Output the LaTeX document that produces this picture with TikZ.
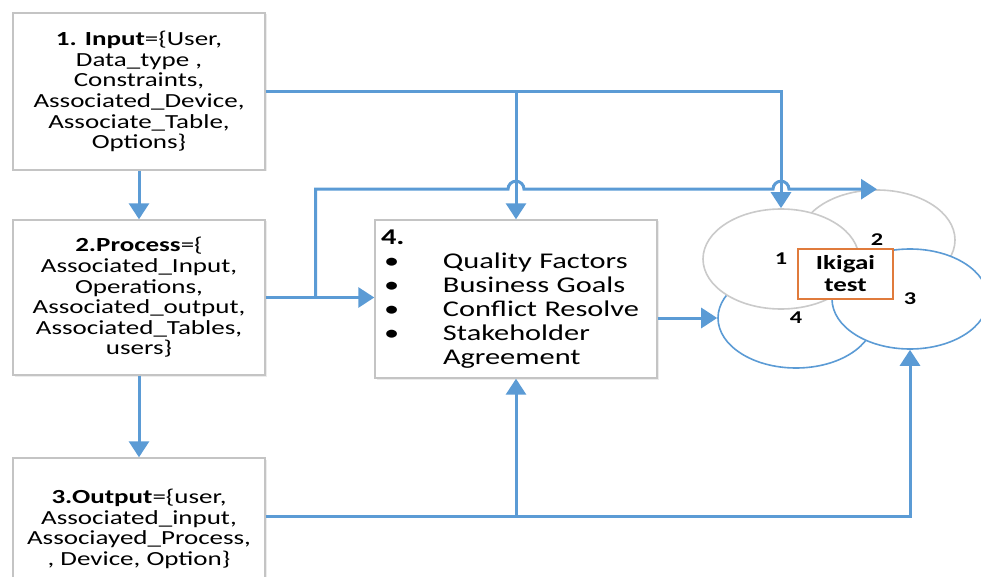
\documentclass[tikz,border=0pt]{standalone}
\usepackage{fontspec}
\setmainfont{Carlito}[FakeStretch=1.35]
\usetikzlibrary{calc,shapes.geometric,arrows.meta,shadows}

\definecolor{lineblue}{HTML}{5B9BD5}
\definecolor{boxgray}{HTML}{C4C4C4}
\definecolor{ringgray}{HTML}{CACACA}
\definecolor{tagorange}{HTML}{E07B3C}

\tikzset{
  infobox/.style={draw=boxgray, line width=1.4pt, fill=white, align=center,
    minimum width=252pt, font=\fontsize{20}{20.6}\selectfont,
    drop shadow={opacity=0.15, shadow xshift=1.5pt, shadow yshift=-1.5pt}},
  flow/.style={lineblue, line width=3pt, -{Triangle[width=20pt,length=16pt]}},
  ring/.style={ellipse, draw, line width=1.6pt, fill=white, minimum width=156pt,
    minimum height=100pt, font=\bfseries\fontsize{18}{18}\selectfont},
}

\begin{document}
\begin{tikzpicture}[x=1pt,y=1pt]

\useasboundingbox (0,0) rectangle (981,-577);

% left column
\node[infobox, minimum height=157pt] (in1) at (139,-91.5)
  {\textbf{1. Input}=\{User,\\ Data\_type ,\\ Constraints,\\ Associated\_Device,\\ Associate\_Table,\\ Options\}};
\node[infobox, minimum height=155pt] (pr2) at (139,-297.5)
  {\textbf{2.Process}=\{\\ Associated\_Input,\\ Operations,\\ Associated\_output,\\ Associated\_Tables,\\ users\}};
\node[infobox, minimum height=142pt] (out3) at (139,-529)
  {\textbf{3.Output}=\{user,\\ Associated\_input,\\ Associayed\_Process,\\ , Device, Option\}};

% quality box
\node[infobox, minimum width=282pt, minimum height=158pt, text width=270pt, inner xsep=6pt,
  align=left, font=\fontsize{22.5}{24}\selectfont] (qual) at (516,-299)
  {\textbf{4.}\\
   \makebox[62pt][l]{\hspace{3pt}\textbullet}Quality Factors\\
   \makebox[62pt][l]{\hspace{3pt}\textbullet}Business Goals\\
   \makebox[62pt][l]{\hspace{3pt}\textbullet}Conflict Resolve\\
   \makebox[62pt][l]{\hspace{3pt}\textbullet}Stakeholder\\
   \hspace*{62pt}Agreement};

% ikigai rings
\node[ring, draw=ringgray] (c2) at (877,-240) {2};
\node[ring, draw=lineblue] (c4) at (796,-318) {4};
\node[ring, draw=ringgray] (c1) at (781,-259) {1};
\node[ring, draw=lineblue] (c3) at (910,-299) {3};
\node[draw=tagorange, line width=2.2pt, fill=white, minimum width=95pt, minimum height=50pt,
  align=center, font=\bfseries\fontsize{20}{22}\selectfont] (tag) at (845.5,-274) {Ikigai\\test};

% connectors
\draw[flow] (in1) -- (pr2);
\draw[flow] (pr2) -- (out3);

\draw[flow] (in1.east) -| (c1.north);
\draw[flow] (in1.east -| qual.north) -- (qual.north);

\coordinate (br) at ($(pr2.east)+(50,0)$);
\draw[flow] (pr2.east) -- (qual.west |- pr2.east);
\draw[flow] (br) |- ($(qual.north |- c2.north)+(-8,0)$)
  arc[start angle=180, end angle=0, radius=8]
  -- ($(c1.north |- c2.north)+(-8,0)$)
  arc[start angle=180, end angle=0, radius=8] -- (c2.north);

\coordinate (o3) at ($(out3.north east)+(0,-59)$);
\draw[flow] (o3) -| (c3.south);
\draw[flow] (o3 -| qual.south) -- (qual.south);

\draw[flow] (qual.east |- c4.west) -- (c4.west);

\end{tikzpicture}
\end{document}
